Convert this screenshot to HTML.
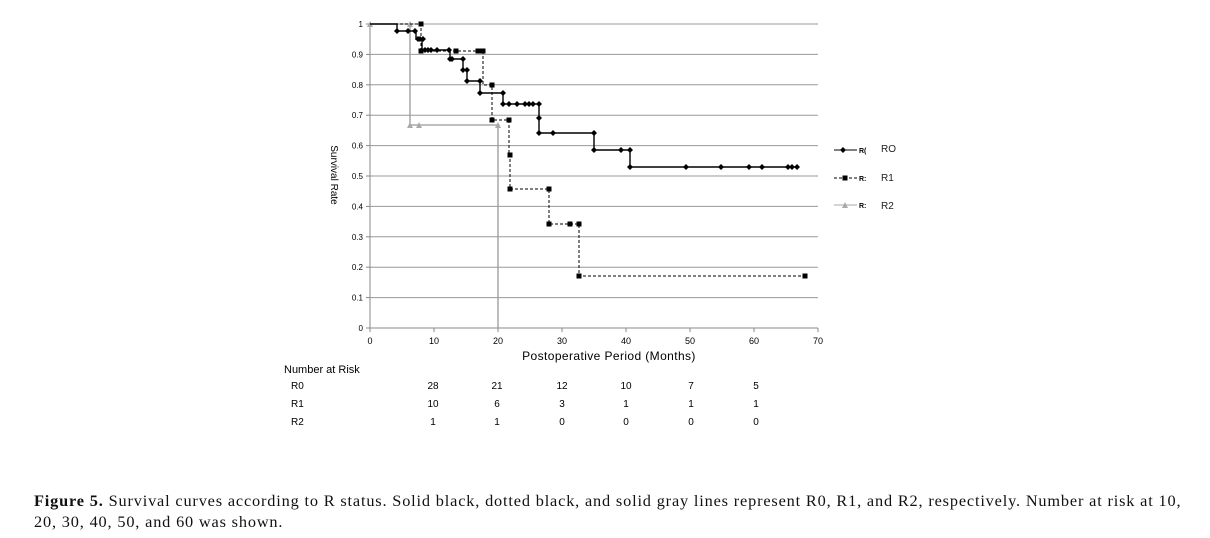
<!DOCTYPE html>
<html><head><meta charset="utf-8"><style>
body{margin:0;background:#fff;width:1210px;height:538px;overflow:hidden;position:relative}
svg{position:absolute;left:0;top:0}
.cap{position:absolute;left:34px;top:490px;width:1152px;font-family:"Liberation Serif",serif;font-size:16.3px;letter-spacing:0.84px;line-height:21px;color:#111}
</style></head><body>
<svg id="s" width="1210" height="538" xmlns="http://www.w3.org/2000/svg" font-family="Liberation Sans, sans-serif">
</svg>
<div class="cap"><b>Figure 5.</b> Survival curves according to R status. Solid black, dotted black, and solid gray lines represent R0, R1, and R2, respectively. Number at risk at 10, 20, 30, 40, 50, and 60 was shown.</div>
<script>
var s=document.getElementById('s'),h='';
function X(v){return 370+v*6.4}
function Y(v){return 328-v*304}
for(var k=1;k<=10;k++){var y=Y(k/10);h+='<line x1="370" x2="818" y1="'+y+'" y2="'+y+'" stroke="#999" stroke-width="1"/>';}
h+='<line x1="370" x2="818" y1="328" y2="328" stroke="#888"/><line x1="370" x2="370" y1="24" y2="328" stroke="#888"/>';
for(var k=0;k<=10;k++){var y=Y(k/10);h+='<text x="363" y="'+(y+3)+'" font-size="8" text-anchor="end">'+(k==0?'0':k==10?'1':'0.'+k)+'</text>';h+='<line x1="366" x2="370" y1="'+y+'" y2="'+y+'" stroke="#888"/>';}
for(var k=0;k<=7;k++){var x=X(k*10);h+='<text x="'+x+'" y="344" font-size="9" text-anchor="middle">'+k*10+'</text><line x1="'+x+'" x2="'+x+'" y1="328" y2="332" stroke="#888"/>';}
h+='<text x="609" y="360" font-size="12" letter-spacing="0.4" text-anchor="middle">Postoperative Period  (Months)</text>';
h+='<text transform="translate(331,175) rotate(90)" font-size="10" text-anchor="middle">Survival Rate</text>';
h+='<polyline fill="none" stroke="#999" stroke-width="1.3" points="370,24 410,24 410,125 498,125 498,328"/>';
function tri(x,y){return '<polygon points="'+(x-3)+','+(y+3)+' '+(x+3)+','+(y+3)+' '+x+','+(y-3)+'" fill="#aaa"/>';}
[[370,24],[410,24],[410,125],[419,125],[498,125]].forEach(function(p){h+=tri(p[0],p[1]);});
h+='<polyline fill="none" stroke="#000" stroke-width="1" stroke-dasharray="3,2" points="370,24 421,24 421,51 483,51 483,85 492,85 492,120 509,120 509,155 510,155 510,189 549,189 549,224 579,224 579,276 805,276"/>';
function sq(x,y){return '<rect x="'+(x-2.5)+'" y="'+(y-2.5)+'" width="5" height="5" fill="#000"/>';}
[[421,24],[421,51],[456,51],[478,51],[483,51],[492,85],[492,120],[509,120],[510,155],[510,189],[549,189],[549,224],[570,224],[579,224],[579,276],[805,276]].forEach(function(p){h+=sq(p[0],p[1]);});
h+='<polyline fill="none" stroke="#000" stroke-width="1.4" points="370,24 397,24 397,31 416,31 416,39 422,39 422,50 450,50 450,59 463,59 463,70 467,70 467,81 480,81 480,93 503,93 503,104 539,104 539,133 594,133 594,150 630,150 630,167 797,167"/>';
function dm(x,y){return '<polygon points="'+x+','+(y-3)+' '+(x+3)+','+y+' '+x+','+(y+3)+' '+(x-3)+','+y+'" fill="#000"/>';}
[[397,31],[408,31],[415,31],[418,39],[420,39],[423,39],[425,50],[428,50],[431,50],[437,50],[449,50],[450,59],[452,59],[463,59],[463,70],[467,70],[467,81],[480,81],[480,93],[503,93],[503,104],[509,104],[517,104],[525,104],[529,104],[533,104],[539,104],[539,118],[539,133],[553,133],[594,133],[594,150],[621,150],[630,150],[630,167],[686,167],[721,167],[749,167],[762,167],[788,167],[792,167],[797,167]].forEach(function(p){h+=dm(p[0],p[1]);});
h+='<line x1="834" x2="857" y1="150" y2="150" stroke="#000"/>'+dm(843,150)+'<text x="859" y="153" font-size="7" font-weight="bold">R(</text><text x="881" y="152" font-size="10" fill="#222">RO</text>';
h+='<line x1="834" x2="857" y1="178" y2="178" stroke="#000" stroke-dasharray="3,2"/>'+sq(845,178)+'<text x="859" y="181" font-size="7" font-weight="bold">R:</text><text x="881" y="181" font-size="10" fill="#222">R1</text>';
h+='<line x1="834" x2="857" y1="205" y2="205" stroke="#aaa"/>'+tri(845,205)+'<text x="859" y="208" font-size="7" font-weight="bold">R:</text><text x="881" y="209" font-size="10" fill="#222">R2</text>';
h+='<text x="284" y="373" font-size="11">Number at Risk</text>';
var rows=[['R0',[28,21,12,10,7,5],389],['R1',[10,6,3,1,1,1],407],['R2',[1,1,0,0,0,0],425]];
var cols=[433,497,562,626,691,756];
rows.forEach(function(r){h+='<text x="291" y="'+r[2]+'" font-size="10">'+r[0]+'</text>';r[1].forEach(function(v,i){h+='<text x="'+cols[i]+'" y="'+r[2]+'" font-size="10" text-anchor="middle">'+v+'</text>';});});
s.innerHTML=h;
</script>
</body></html>
